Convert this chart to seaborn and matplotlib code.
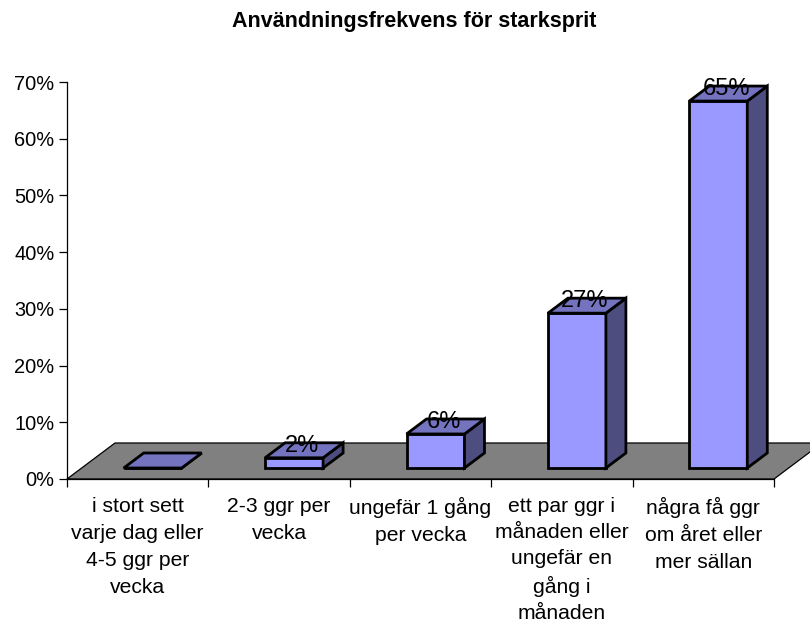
import matplotlib
matplotlib.use('Agg')
import matplotlib.pyplot as plt
from matplotlib.patches import Polygon
from matplotlib.transforms import Affine2D
import pandas as pd
import seaborn as sns

categories = ['i stort sett\nvarje dag eller\n4-5 ggr per\nvecka', '2-3 ggr per\nvecka', 'ungefär 1 gång\nper vecka',
              'ett par ggr i\nmånaden eller\nungefär en\ngång i\nmånaden', 'några få ggr\nom året eller\nmer sällan']
values = [0, 1.8, 6, 27.3, 64.7]
labels = ['', '2%', '6%', '27%', '65%']
y_ticks = [0, 10, 20, 30, 40, 50, 60, 70]
y_labels = ['0%', '10%', '20%', '30%', '40%', '50%', '60%', '70%']

sns.set_style('white')
plt.rcParams['font.family'] = ['Liberation Sans', 'DejaVu Sans']

fig = plt.figure(figsize=(8.1, 6.23), dpi=100)
ax = fig.add_axes([67 / 810, (623 - 479) / 623, 707 / 810, 397 / 623])
ax.patch.set_alpha(0)

df = pd.DataFrame({'cat': categories, 'val': values})
sns.barplot(data=df, x='cat', y='val', color='#9999FF', saturation=1, width=0.41,
            edgecolor='black', linewidth=2, ax=ax)
ax.set_xlim(-0.5, 4.5)
ax.set_ylim(0, 70)
ax.set_xlabel('')
ax.set_ylabel('')

# storlek i pixlar -> dataenheter
px_x = 5 / 707
px_y = 70 / 397

# golvet
fl_dx, fl_dy = 48 * px_x, 36 * px_y
floor = Polygon([(-0.5, 0), (4.5, 0), (4.5 + fl_dx, fl_dy), (-0.5 + fl_dx, fl_dy)], closed=True,
                facecolor='#808080', edgecolor='black', linewidth=0.9, clip_on=False, zorder=0.5)
ax.add_patch(floor)

# 3D-sidor, framsidan flyttas in på golvet
shift = ax.transData + Affine2D().translate(15, 11)
d_x, d_y = 20 * px_x, 15 * px_y
for i, bar in enumerate(ax.patches):
    if bar is floor:
        continue
    bar.set_transform(shift)
    bar.set_clip_on(False)
    bar.set_zorder(3)
    x0 = bar.get_x()
    x1 = x0 + bar.get_width()
    h = bar.get_height()
    top = Polygon([(x0, h), (x1, h), (x1 + d_x, h + d_y), (x0 + d_x, h + d_y)], closed=True, transform=shift,
                  facecolor='#7373BF', edgecolor='black', linewidth=2, clip_on=False, zorder=3)
    side = Polygon([(x1, 0), (x1 + d_x, d_y), (x1 + d_x, h + d_y), (x1, h)], closed=True, transform=shift,
                   facecolor='#4D4D80', edgecolor='black', linewidth=2, clip_on=False, zorder=3)
    ax.add_patch(side)
    ax.add_patch(top)

for i, v in enumerate(values):
    if labels[i]:
        ax.annotate(labels[i], (i, v), xytext=(23, 17), textcoords='offset pixels', ha='center', va='baseline',
                    fontsize=17, color='black', zorder=6, annotation_clip=False)

ax.set_yticks(y_ticks)
ax.set_yticklabels(y_labels, fontsize=14.4, color='black')
ax.tick_params(axis='y', which='major', left=True, length=6, width=0.9, color='black', pad=3)

# kategorinamn i mitten, streck mellan kategorierna
ax.set_xticks(range(5))
ax.set_xticklabels(categories, fontsize=15.2, color='black', linespacing=1.54)
ax.get_xticklabels()[3].set_linespacing(1.47)
ax.set_xticks([-0.5, 0.5, 1.5, 2.5, 3.5, 4.5], minor=True)
ax.tick_params(axis='x', which='major', bottom=False, length=0, pad=13)
ax.tick_params(axis='x', which='minor', bottom=True, length=6, width=0.9, color='black')

sns.despine(ax=ax)
for s in ['left', 'bottom']:
    ax.spines[s].set_color('black')
    ax.spines[s].set_linewidth(0.9)
    ax.spines[s].set_zorder(2.5)

fig.text(414 / 810, 1 - 21 / 623, 'Användningsfrekvens för starksprit', ha='center', va='center',
         fontsize=15.5, fontweight='bold', color='black')

fig.savefig('out.png', dpi=100)
